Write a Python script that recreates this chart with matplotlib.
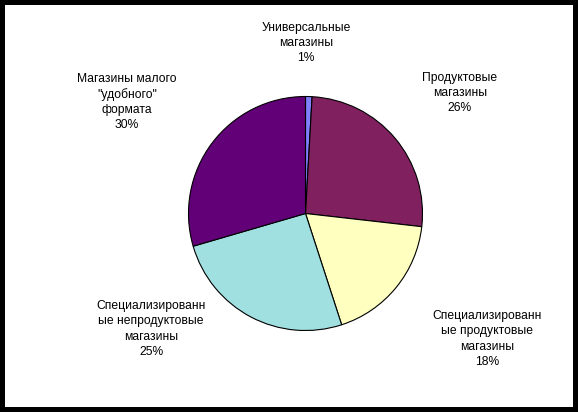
import matplotlib
matplotlib.use("Agg")
import matplotlib.pyplot as plt

# Data
categories = [
    "Универсальные\nмагазины",
    "Продуктовые\nмагазины",
    "Специализированн\nые продуктовые\nмагазины",
    "Специализированн\nые непродуктовые\nмагазины",
    "Магазины малого\n\"удобного\"\nформата",
]
values = [0.9, 25.9, 18.2, 25.49, 29.51]
pct_labels = ["1%", "26%", "18%", "25%", "30%"]
colors = ["#8080FF", "#80205F", "#FFFFC0", "#A0E0E0", "#620078"]

# label positions in figure pixels (x from left, y from top) -- layout only
label_pos = [(306, 43), (460, 93), (487, 339), (151, 329), (127, 102)]

W, H = 578, 412
fig = plt.figure(figsize=(W / 100, H / 100), dpi=100)
fig.patch.set_facecolor("white")
fig.patch.set_edgecolor("black")
fig.patch.set_linewidth(7.2)

cx, cy, r = 305.5, 213.5, 117
ax = fig.add_axes([(cx - r) / W, (H - cy - r) / H, 2 * r / W, 2 * r / H])
ax.pie(values, colors=colors, startangle=90, counterclock=False,
       wedgeprops=dict(edgecolor="black", linewidth=0.8))
ax.set_aspect("equal")
ax.set_xlim(-1, 1)
ax.set_ylim(-1, 1)
ax.axis("off")

for cat, pct, (px, py) in zip(categories, pct_labels, label_pos):
    fig.text(px / W, 1 - py / H, cat + "\n" + pct, ha="center", va="center",
             fontsize=8.7, family=["Liberation Sans", "DejaVu Sans"],
             linespacing=1.36, color="black")

fig.savefig("out.png", dpi=100, facecolor=fig.get_facecolor(), edgecolor=fig.get_edgecolor())
